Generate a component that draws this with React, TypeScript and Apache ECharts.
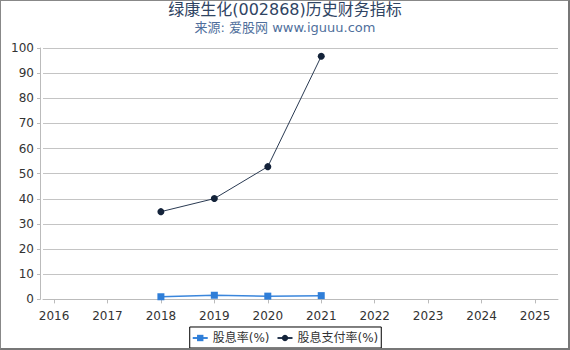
import React, { useEffect, useRef } from "react";
import * as echarts from "echarts";

const years = [2016, 2017, 2018, 2019, 2020, 2021, 2022, 2023, 2024, 2025];
const dataYears = [2018, 2019, 2020, 2021];
const dividendYield = [1.05, 1.65, 1.3, 1.5];
const payoutRatio = [34.9, 40.1, 52.8, 96.7];
const yTicks = [0, 10, 20, 30, 40, 50, 60, 70, 80, 90, 100];

const FONT = "DejaVu Sans, Noto Sans CJK SC, sans-serif";

export default function App() {
  const ref = useRef<HTMLDivElement>(null);
  useEffect(() => {
    if (!ref.current) return;
    const chart = echarts.init(ref.current, null, { renderer: "svg" });
    chart.setOption({
      animation: false,
      backgroundColor: "#ffffff",
      textStyle: { fontFamily: FONT },
      title: {
        text: "绿康生化(002868)历史财务指标",
        subtext: "来源: 爱股网 www.iguuu.com",
        left: "center",
        top: 1,
        padding: 0,
        itemGap: 4,
        textStyle: { fontSize: 16, fontWeight: "normal", color: "#2f4463", fontFamily: FONT },
        subtextStyle: { fontSize: 13, color: "#4f6f9c", fontFamily: FONT },
      },
      legend: {
        left: "center",
        bottom: 2,
        borderColor: "#000",
        borderWidth: 1,
        borderRadius: 0,
        padding: [5, 3, 4, 2],
        itemWidth: 15,
        itemHeight: 8,
        itemGap: 7,
        textStyle: { fontSize: 12, color: "#333", fontFamily: FONT },
        data: ["股息率(%)", "股息支付率(%)"],
      },
      grid: { left: 43, right: 12, top: 48, bottom: 50.6, containLabel: false },
      xAxis: {
        type: "value",
        min: 2015.794,
        max: 2025.43,
        offset: 5,
        axisLine: { show: true, lineStyle: { color: "#bbbbbb" } },
        axisTick: { show: true, length: 4, lineStyle: { color: "#bbbbbb" }, customValues: years },
        axisLabel: {
          customValues: years,
          formatter: (v: number) => String(Math.round(v)),
          fontSize: 12,
          color: "#333",
          margin: 6,
          fontFamily: FONT,
        },
        splitLine: { show: false },
      },
      yAxis: {
        type: "value",
        min: 0,
        max: 100,
        interval: 10,
        offset: 3,
        axisLine: { show: true, lineStyle: { color: "#bbbbbb" } },
        axisTick: { show: true, length: 3, lineStyle: { color: "#bbbbbb" } },
        axisLabel: {
          fontSize: 12,
          color: "#333",
          margin: 6,
          fontFamily: FONT,
          customValues: yTicks,
        },
        splitLine: { show: true, lineStyle: { color: "#c4c4c4", width: 1 } },
      },
      series: [
        {
          name: "股息率(%)",
          type: "line",
          data: dataYears.map((y, i) => [y, dividendYield[i]]),
          symbol: "rect",
          symbolSize: 7,
          itemStyle: { color: "#2f7ed8" },
          lineStyle: { color: "#3a86dc", width: 1.5 },
        },
        {
          name: "股息支付率(%)",
          type: "line",
          data: dataYears.map((y, i) => [y, payoutRatio[i]]),
          symbol: "circle",
          symbolSize: 7,
          itemStyle: { color: "#14233a" },
          lineStyle: { color: "#2a3a52", width: 1 },
        },
      ],
    });
    return () => chart.dispose();
  }, []);

  return (
    <div style={{ position: "fixed", left: 0, top: 0, width: 570, height: 350 }}>
      <div ref={ref} style={{ position: "absolute", left: 0, top: 0, width: 570, height: 350 }} />
      <div
        style={{
          position: "absolute",
          left: 0,
          top: 0,
          width: 570,
          height: 350,
          boxSizing: "border-box",
          borderLeft: "1px solid #888",
          borderTop: "1px solid #888",
          borderRight: "2px solid #777",
          borderBottom: "2px solid #777",
          pointerEvents: "none",
        }}
      />
    </div>
  );
}
